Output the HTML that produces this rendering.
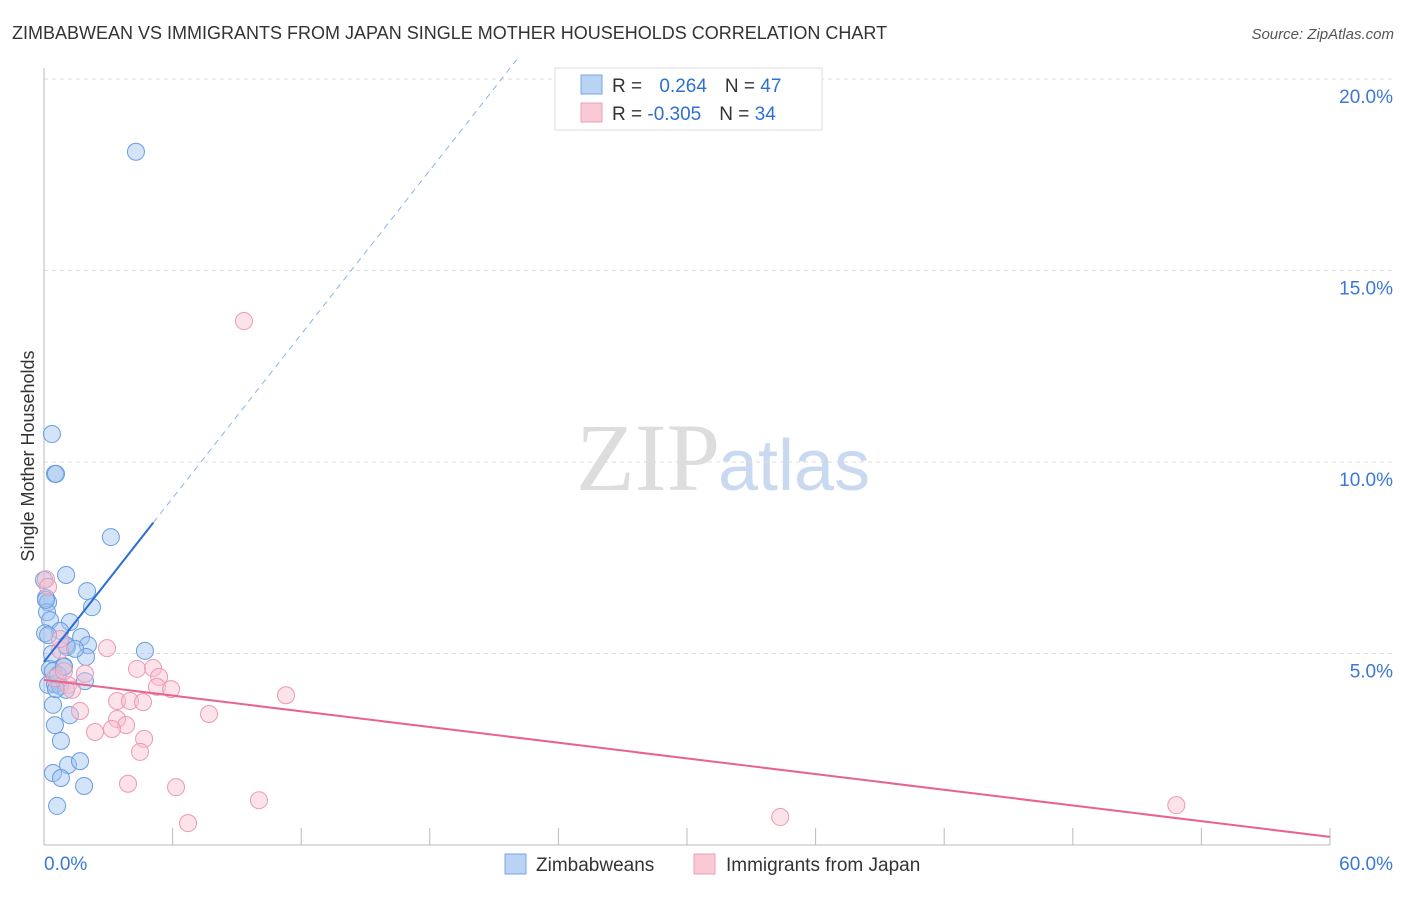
<!DOCTYPE html>
<html><head><meta charset="utf-8"><style>
body{margin:0;background:#fff;font-family:"Liberation Sans",sans-serif}
</style></head><body>
<svg id="c" width="1406" height="892" xmlns="http://www.w3.org/2000/svg">
<text x="12" y="39" font-size="18" fill="#333">ZIMBABWEAN VS IMMIGRANTS FROM JAPAN SINGLE MOTHER HOUSEHOLDS CORRELATION CHART</text>
<text x="1394" y="39" font-size="15" fill="#555" font-style="italic" text-anchor="end">Source: ZipAtlas.com</text>
<text x="720" y="490" font-size="96" fill="#ddd" font-family="Liberation Serif,serif" text-anchor="end">ZIP</text>
<text x="718" y="490" font-size="72" fill="#c9daf0">atlas</text>
<text transform="translate(34,456) rotate(-90)" font-size="18" fill="#333" text-anchor="middle">Single Mother Households</text>
<g id="grid"></g><g id="pts"></g><g id="lines"></g>
<g>
<rect x="555" y="68" width="267" height="62" fill="#fff" stroke="#ddd"/>
<rect x="581" y="75" width="21" height="19" fill="#b9d3f5" stroke="#7aa6e0"/>
<text x="612" y="92" font-size="19" fill="#333">R = <tspan fill="#2f6fd0" dx="12">0.264</tspan><tspan dx="18" fill="#333">N = </tspan><tspan fill="#2f6fd0">47</tspan></text>
<rect x="581" y="103" width="21" height="19" fill="#f9c9d6" stroke="#eda0b6"/>
<text x="612" y="120" font-size="19" fill="#333">R = <tspan fill="#2f6fd0">-0.305</tspan><tspan dx="18" fill="#333">N = </tspan><tspan fill="#2f6fd0">34</tspan></text>
</g>
<g>
<rect x="505" y="854" width="21" height="20" fill="#b9d3f5" stroke="#7aa6e0"/>
<text x="536" y="871" font-size="19" fill="#333">Zimbabweans</text>
<rect x="694" y="854" width="21" height="20" fill="#f9c9d6" stroke="#eda0b6"/>
<text x="726" y="871" font-size="19" fill="#333">Immigrants from Japan</text>
</g>
</svg>
<script>
const xTicks=[0,6,12,18,24,30,36,42,48,54,60];
const yTicks=[5,10,15,20];
const blueX=[4.29,0.37,0.51,0.56,3.12,1.03,2.01,2.24,0.09,0.19,0.14,0.28,0.05,1.21,0.75,1.73,1.07,2.05,1.03,4.71,1.96,0.93,0.28,0.42,0.19,0.51,0.75,1.91,1.03,0.42,1.21,0.51,0.79,1.12,1.68,0.42,0.79,1.87,0.61,0.09,0.0,0.37,0.65,0.19,0.56,0.93,1.45];
const blueY=[18.1,10.73,9.69,9.69,8.04,7.05,6.63,6.21,6.45,6.34,6.08,5.87,5.53,5.82,5.59,5.43,5.17,5.22,5.22,5.07,4.91,4.67,4.6,4.54,4.18,4.2,4.15,4.28,4.05,3.66,3.39,3.13,2.72,2.09,2.19,1.88,1.75,1.54,1.02,6.4,6.92,4.99,4.44,5.48,4.07,4.65,5.12];
const pinkX=[9.33,0.09,0.19,2.94,0.75,4.34,5.09,5.37,1.91,0.51,1.12,1.31,5.27,5.93,3.41,4.01,4.62,11.29,7.7,1.68,3.41,3.83,2.38,3.17,4.67,4.48,3.92,6.16,10.03,6.72,34.35,52.83,0.93,0.75];
const pinkY=[13.68,6.94,6.74,5.14,5.09,4.6,4.62,4.39,4.47,4.36,4.18,4.05,4.13,4.07,3.76,3.76,3.73,3.91,3.42,3.5,3.29,3.13,2.95,3.03,2.77,2.43,1.6,1.51,1.17,0.57,0.73,1.04,4.54,5.38];
const blueTrend=[4.78,0.713], pinkTrend=[4.31,-0.0683];
const X=v=>44+v*(1286/60), Y=v=>845-v*38.3;
const NS='http://www.w3.org/2000/svg';
function mk(t,a,p){const e=document.createElementNS(NS,t);for(const k in a)e.setAttribute(k,a[k]);p.appendChild(e);return e;}
const g=document.getElementById('grid'),P=document.getElementById('pts'),L=document.getElementById('lines');
yTicks.forEach(v=>{const l=mk('line',{x1:44,x2:1394,y1:Y(v),y2:Y(v),stroke:'#ddd','stroke-dasharray':'4,4'},g);


const t=mk('text',{x:1393,y:Y(v)+24,'font-size':19,fill:'#3b78d4','text-anchor':'end'},g);t.textContent=v.toFixed(1)+'%';

});
mk('line',{x1:44,x2:44,y1:68,y2:845,stroke:'#bbb'},g);
mk('line',{x1:44,x2:1330,y1:845,y2:845,stroke:'#bbb'},g);
xTicks.forEach(v=>{const l=mk('line',{x1:X(v),x2:X(v),y1:828,y2:845,stroke:'#bbb'},g);

});
[[0,'start',44],[60,'end',1393]].forEach(([v,a,x])=>{const t=mk('text',{x:x,y:870,'font-size':19,fill:'#3b78d4','text-anchor':a},g);t.textContent=v.toFixed(1)+'%';

});
blueX.forEach((v,i)=>{const c=mk('circle',{cx:X(v),cy:Y(blueY[i]),r:8.5,fill:'rgba(160,195,240,0.45)',stroke:'#6a9de0','stroke-width':1},P);

});
pinkX.forEach((v,i)=>{const c=mk('circle',{cx:X(v),cy:Y(pinkY[i]),r:8.5,fill:'rgba(248,190,206,0.45)',stroke:'#ec9ab2','stroke-width':1},P);

});
const bs=mk('line',{x1:X(0),y1:Y(blueTrend[0]),x2:X(5.1),y2:Y(blueTrend[0]+blueTrend[1]*5.1),stroke:'#2a6dd6','stroke-width':2},L);


const xe=(20.5-blueTrend[0])/blueTrend[1];
const bd=mk('line',{x1:X(5.1),y1:Y(blueTrend[0]+blueTrend[1]*5.1),x2:X(xe),y2:Y(20.5),stroke:'#8fb2e8','stroke-width':1,'stroke-dasharray':'6,5'},L);


const pl=mk('line',{x1:X(0),y1:Y(pinkTrend[0]),x2:X(60),y2:Y(pinkTrend[0]+pinkTrend[1]*60),stroke:'#e8648e','stroke-width':2},L);


</script>
</body></html>
